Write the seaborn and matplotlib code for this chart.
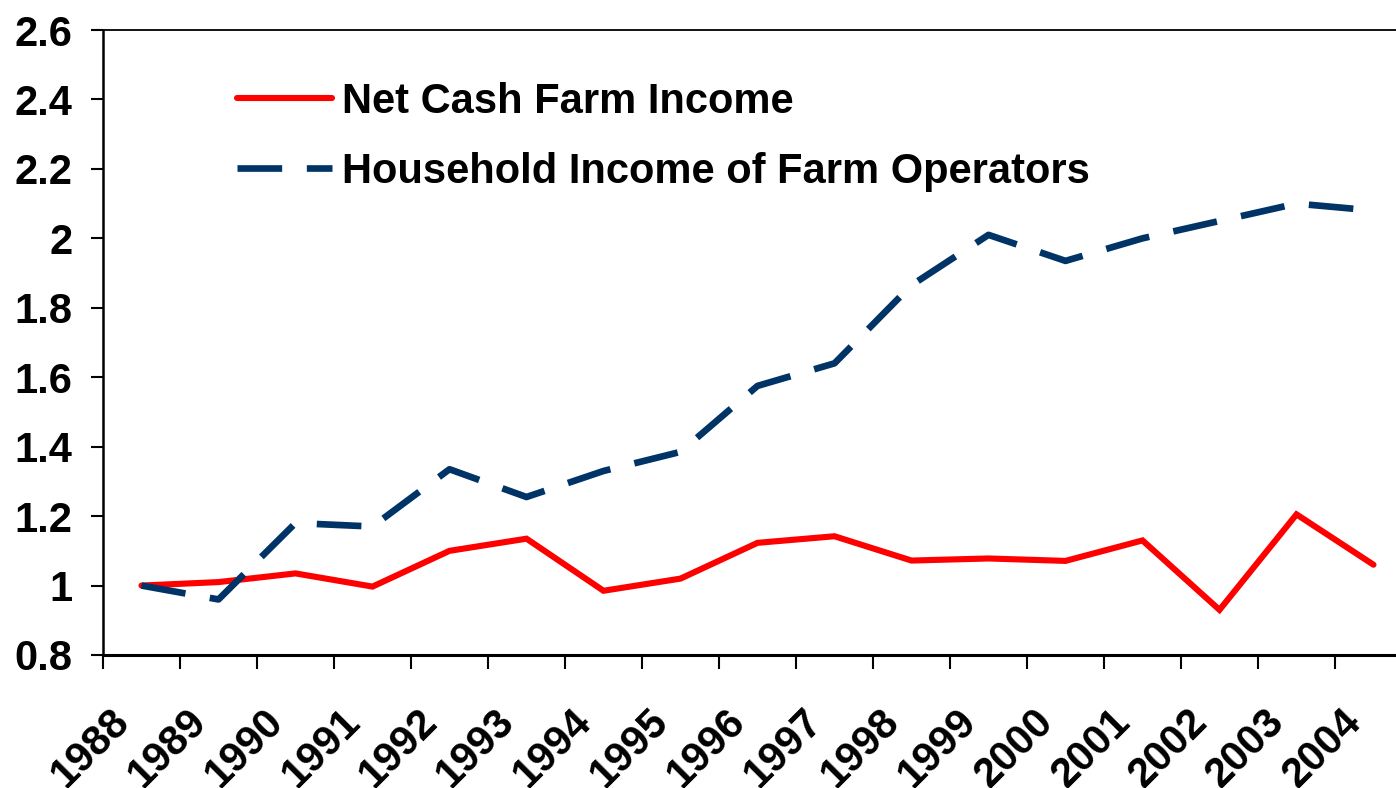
import numpy as np
import pandas as pd
import matplotlib
matplotlib.use("Agg")
import matplotlib.pyplot as plt
import matplotlib.transforms as mtransforms
from matplotlib.lines import Line2D
import seaborn as sns

# =========================
# DATA
# =========================
years = ["1988", "1989", "1990", "1991", "1992", "1993", "1994", "1995", "1996",
         "1997", "1998", "1999", "2000", "2001", "2002", "2003", "2004"]
net_cash = [1.00, 1.01, 1.035, 0.997, 1.10, 1.135, 0.985, 1.02, 1.123,
            1.142, 1.072, 1.078, 1.071, 1.13, 0.93, 1.205, 1.06]
household = [1.00, 0.96, 1.18, 1.17, 1.335, 1.255, 1.33, 1.385, 1.575,
             1.64, 1.865, 2.01, 1.935, 2.0, 2.05, 2.10, 2.08]
y_ticks = [0.8, 1.0, 1.2, 1.4, 1.6, 1.8, 2.0, 2.2, 2.4, 2.6]
y_labels = ["0.8", "1", "1.2", "1.4", "1.6", "1.8", "2", "2.2", "2.4", "2.6"]
series_names = ["Net Cash Farm Income", "Household Income of Farm Operators"]

RED = "#FF0000"
NAVY = "#003366"

df = pd.DataFrame({"pos": np.arange(len(years)), "net": net_cash, "hh": household})

# =========================
# STYLE
# =========================
sns.set_style("white")
plt.rcParams["font.family"] = ["Liberation Sans", "DejaVu Sans"]
plt.rcParams["font.weight"] = "bold"
plt.rcParams["text.color"] = "black"
plt.rcParams["xtick.color"] = "black"
plt.rcParams["ytick.color"] = "black"
plt.rcParams["xtick.labelcolor"] = "black"
plt.rcParams["ytick.labelcolor"] = "black"
FS = 30

fig = plt.figure(figsize=(13.96, 7.88), dpi=100)
# axes runs a little past the right edge, like the original
ax = fig.add_axes([103 / 1396, 133 / 788, 1309 / 1396, 625 / 788])

dash = (0, (6.7, 3.7))
sns.lineplot(data=df, x="pos", y="net", ax=ax, color=RED, linewidth=4.4,
             solid_capstyle="round", solid_joinstyle="miter")
sns.lineplot(data=df, x="pos", y="hh", ax=ax, color=NAVY, linewidth=4.8,
             linestyle=dash, dash_capstyle="butt")

ax.set_xlim(-0.5, len(years) - 0.5)
ax.set_ylim(y_ticks[0], y_ticks[-1])
ax.set_xlabel("")
ax.set_ylabel("")

# y axis
ax.set_yticks(y_ticks)
ax.set_yticklabels(y_labels, fontsize=FS, fontweight="bold", color="black")
ax.tick_params(axis="y", which="major", direction="out", length=9, width=1.5,
               pad=13, color="black", left=True)

# x axis: ticks on category boundaries, labels at centres
ax.set_xticks(np.arange(len(years) + 1) - 0.5)
ax.set_xticklabels([])
ax.tick_params(axis="x", which="major", direction="out", length=10, width=1.5,
               color="black", bottom=True)
ax.set_xticks(np.arange(len(years)), minor=True)
ax.set_xticklabels(years, minor=True, fontsize=FS, fontweight="bold", color="black",
                   rotation=45, ha="right", va="center", rotation_mode="anchor")
ax.tick_params(axis="x", which="minor", length=0, pad=44)
shift = mtransforms.ScaledTranslation(-18 / 100, 0, fig.dpi_scale_trans)
for lbl in ax.get_xticklabels(minor=True):
    lbl.set_transform(lbl.get_transform() + shift)

for side in ["left", "bottom", "top", "right"]:
    ax.spines[side].set_visible(True)
    ax.spines[side].set_color("black")
ax.spines["left"].set_linewidth(1.8)
ax.spines["bottom"].set_linewidth(2.2)
ax.spines["top"].set_linewidth(1.3)

# =========================
# LEGEND
# =========================
handles = [
    Line2D([], [], color=RED, linewidth=4.4, solid_capstyle="round"),
    Line2D([], [], color=NAVY, linewidth=4.8, linestyle=dash, dash_capstyle="butt"),
]
leg = ax.legend(handles, series_names, loc="upper left", bbox_to_anchor=(0.1024, 0.917),
                frameon=False, prop={"size": FS, "weight": "bold"}, handlelength=2.27,
                handletextpad=0.24, labelspacing=0.72, borderpad=0, borderaxespad=0)
for t in leg.get_texts():
    t.set_color("black")

fig.savefig("out.png", dpi=100)
